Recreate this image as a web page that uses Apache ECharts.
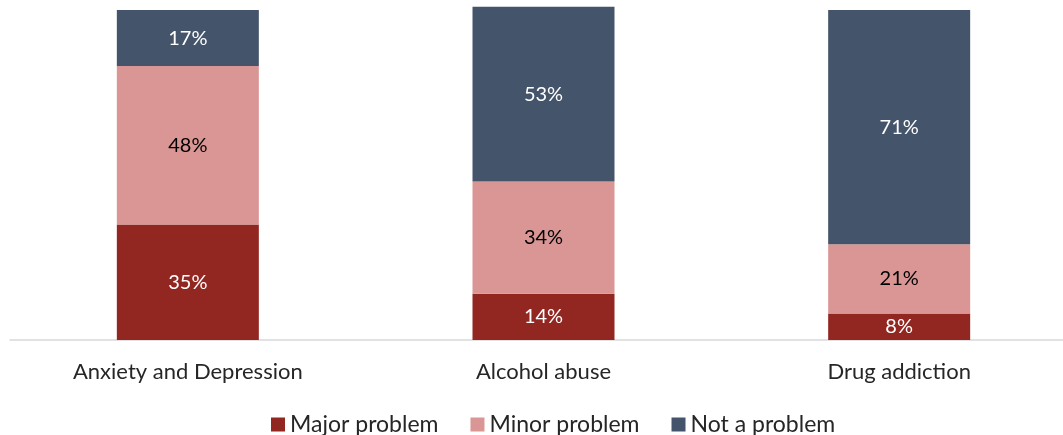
<!DOCTYPE html>
<html>
<head>
<meta charset="utf-8">
<script src="https://cdn.jsdelivr.net/npm/echarts@6/dist/echarts.min.js"></script>
<style>
  html, body { margin: 0; padding: 0; background: #fff; }
  #chart { width: 1063px; height: 435px; }
</style>
</head>
<body>
<div id="chart"></div>
<script>
// Survey answers: how big a problem each issue is (percent of respondents)
const categories = ['Anxiety and Depression', 'Alcohol abuse', 'Drug addiction'];
const majorProblem = [35, 14, 8];
const minorProblem = [48, 34, 21];
const notAProblem = [17, 53, 71];

const FONT = 'Lato, "Open Sans", sans-serif';
const colors = { major: '#922620', minor: '#D99694', not: '#44546A' };

function stackSeries(name, data, color, labelColor) {
  return {
    name: name,
    type: 'bar',
    stack: 'total',
    data: data,
    barWidth: 142,
    itemStyle: { color: color },
    label: {
      show: true,
      position: 'inside',
      formatter: '{c}%',
      color: labelColor,
      fontFamily: FONT,
      fontSize: 20
    }
  };
}

const chart = echarts.init(document.getElementById('chart'), null, { renderer: 'canvas' });
chart.setOption({
  animation: false,
  backgroundColor: '#ffffff',
  // the plot runs a little past the right edge so the three bands keep their width
  grid: {
    left: 10, width: 1067, top: 6.7, height: 333.3,
    containLabel: false, outerBoundsMode: 'none'
  },
  legend: {
    bottom: -6,
    left: 266,
    icon: 'rect',
    itemWidth: 14,
    itemHeight: 14,
    itemGap: 32,
    textStyle: { fontFamily: FONT, fontSize: 23, color: '#262626' },
    data: ['Major problem', 'Minor problem', 'Not a problem']
  },
  xAxis: {
    type: 'category',
    data: categories,
    axisLine: { show: true, lineStyle: { color: '#D9D9D9', width: 1.5 } },
    axisTick: { show: false },
    axisLabel: { margin: 21, fontFamily: FONT, fontSize: 22, color: '#262626' }
  },
  yAxis: {
    type: 'value',
    min: 0,
    max: 101,
    show: false,
    splitLine: { show: false }
  },
  series: [
    stackSeries('Major problem', majorProblem, colors.major, '#ffffff'),
    stackSeries('Minor problem', minorProblem, colors.minor, '#000000'),
    stackSeries('Not a problem', notAProblem, colors.not, '#ffffff')
  ]
});
</script>
</body>
</html>
